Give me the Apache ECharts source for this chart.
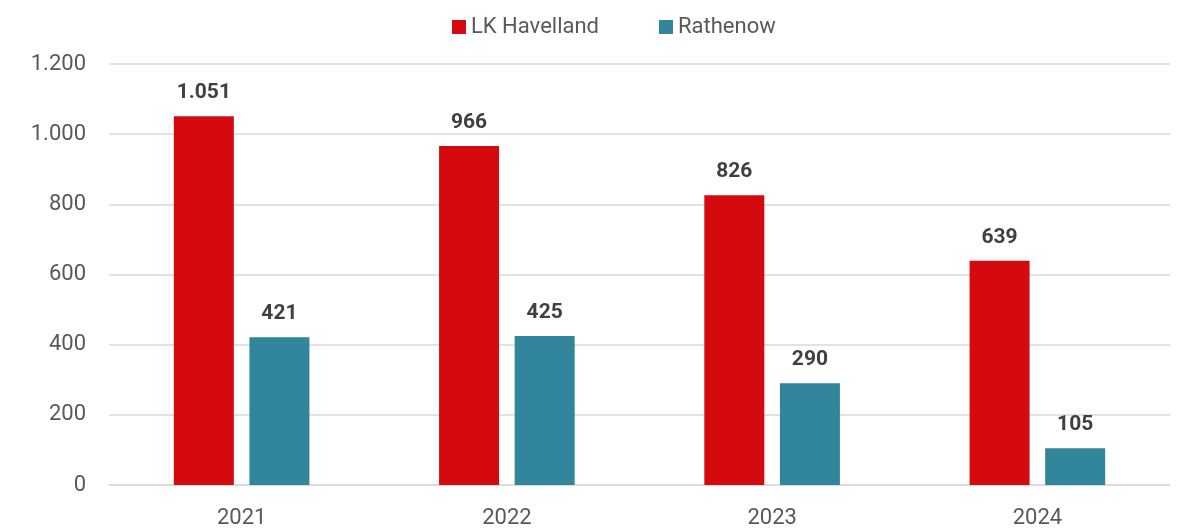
<!DOCTYPE html>
<html>
<head>
<meta charset="utf-8">
<script src="https://cdn.jsdelivr.net/npm/echarts@6/dist/echarts.min.js"></script>
<style>
  html, body { margin: 0; padding: 0; background: #fff; }
  #chart { width: 1180px; height: 530px; }
</style>
</head>
<body>
<div id="chart"></div>
<script>
const years = ['2021', '2022', '2023', '2024']
const havelland = [1051, 966, 826, 639]
const rathenow = [421, 425, 290, 105]

// Tausenderpunkt wie im Original
const fmt = v => String(v).replace(/\B(?=(\d{3})+(?!\d))/g, '.')

const font = 'Roboto'

const labelStyle = {
  show: true,
  position: 'top',
  distance: 13,
  color: '#404040',
  fontFamily: font,
  fontWeight: 'bold',
  fontSize: 21,
  formatter: p => fmt(p.value)
}

const chart = echarts.init(document.getElementById('chart'))
chart.setOption({
  animation: false,
  textStyle: { fontFamily: font },
  legend: {
    top: 11,
    left: 447,
    itemWidth: 14,
    itemHeight: 14,
    itemGap: 60,
    icon: 'rect',
    textStyle: { fontSize: 22, color: '#595959', fontFamily: font },
    data: ['LK Havelland', 'Rathenow']
  },
  grid: { left: 109, right: 10, top: 64, bottom: 45 },
  xAxis: {
    type: 'category',
    data: years,
    axisLine: { show: true, lineStyle: { color: '#d9d9d9', width: 1.5 } },
    axisTick: { show: false },
    axisLabel: { color: '#595959', fontSize: 22, margin: 22, fontFamily: font }
  },
  yAxis: {
    type: 'value',
    min: 0,
    max: 1200,
    interval: 200,
    axisLine: { show: false },
    axisTick: { show: false },
    splitLine: { lineStyle: { color: '#d9d9d9', width: 1.5 } },
    axisLabel: { color: '#595959', fontSize: 22, margin: 23, fontFamily: font, formatter: v => fmt(v) }
  },
  series: [
    {
      name: 'LK Havelland',
      type: 'bar',
      data: havelland,
      barWidth: 60,
      barGap: '26%',
      itemStyle: { color: '#d40a0f' },
      label: labelStyle
    },
    {
      name: 'Rathenow',
      type: 'bar',
      data: rathenow,
      barWidth: 60,
      itemStyle: { color: '#31869b' },
      label: labelStyle
    }
  ]
})
</script>
</body>
</html>
